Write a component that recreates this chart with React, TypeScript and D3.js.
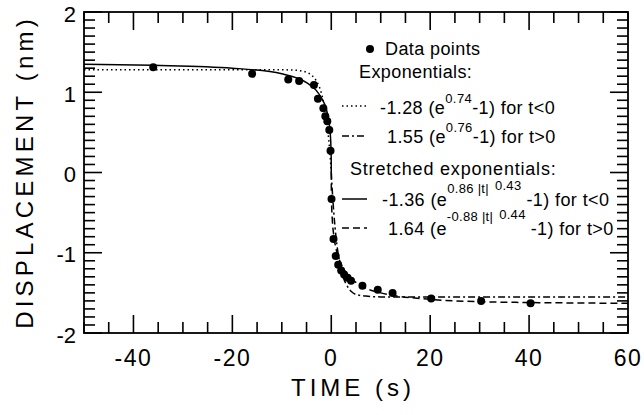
import React from 'react';
import * as d3 from 'd3';

// measured points
const dataT = [-36, -16, -8.7, -6.5, -3.5, -2.7, -1.6, -1.2, -0.8, -0.4, -0.15, 0.05, 0.45, 0.9, 1.4, 2.0, 2.6, 3.3, 4.0, 6.3, 9.4, 12.4, 20.2, 30.3, 40.3];
const dataV = [1.31, 1.23, 1.16, 1.14, 1.09, 0.92, 0.80, 0.70, 0.64, 0.53, 0.27, -0.33, -0.83, -1.04, -1.15, -1.22, -1.27, -1.31, -1.35, -1.41, -1.46, -1.50, -1.57, -1.60, -1.63];

// fitted curves
const expNegT = [-50, -20, -10, -7, -5, -4, -3, -2.5, -2, -1.5, -1, -0.75, -0.5, -0.25, 0];
const expNegV = [1.28, 1.28, 1.28, 1.273, 1.248, 1.213, 1.14, 1.08, 0.99, 0.86, 0.67, 0.55, 0.40, 0.22, 0];
const expPosT = [0, 0.25, 0.5, 1, 1.5, 2, 2.5, 3, 4, 5, 7, 10, 60];
const expPosV = [0, -0.27, -0.49, -0.83, -1.05, -1.21, -1.32, -1.39, -1.48, -1.52, -1.54, -1.55, -1.55];
const strNegT = [-50, -36, -20, -10, -5, -3, -2, -1, -0.5, -0.2, -0.05, -0.01, 0];
const strNegV = [1.35, 1.335, 1.30, 1.23, 1.12, 1.02, 0.93, 0.79, 0.64, 0.48, 0.29, 0.15, 0];
const strPosT = [0, 0.01, 0.05, 0.2, 0.5, 1, 2, 3, 5, 10, 20, 30, 40, 60];
const strPosV = [0, -0.18, -0.35, -0.58, -0.78, -0.96, -1.14, -1.25, -1.37, -1.50, -1.58, -1.61, -1.62, -1.63];

const xLabels = [-40, -20, 0, 20, 40, 60];
const yLabels = [-2, -1, 0, 1, 2];

const W = 644, H = 415;
const mLeft = 84, mRight = 628, mTop = 12, mBottom = 333;
const font = '"Liberation Sans", Arial, Helvetica, sans-serif';

export default function App() {
  const x = d3.scaleLinear().domain([-50, 60]).range([mLeft, mRight]);
  const y = d3.scaleLinear().domain([-2, 2]).range([mBottom, mTop]);

  const lineGen = d3.line<[number, number]>()
    .x(d => x(d[0]))
    .y(d => y(d[1]))
    .curve(d3.curveMonotoneX);
  const path = (ts: number[], vs: number[]) => lineGen(ts.map((t, i) => [t, vs[i]]) as [number, number][]) || '';

  // inward ticks on all four sides, long ones on labelled values
  const xt = x.ticks(22);
  const yt = y.ticks(40);
  const xMaj = (t: number) => xLabels.includes(t);
  const yMaj = (v: number) => Math.abs(v - Math.round(v)) < 1e-6;

  return (
    <svg width={W} height={H} style={{ position: 'absolute', left: 0, top: 0, background: '#fff' }} fontFamily={font}>
      <rect width={W} height={H} fill="#fff" />

      <g fill="none" stroke="#000" strokeWidth={1.5}>
        <path d={path(expNegT, expNegV)} strokeDasharray="1.5 3" />
        <path d={path(expPosT, expPosV)} strokeDasharray="7 3 2 3" />
        <path d={path(strNegT, strNegV)} />
        <path d={path(strPosT, strPosV)} strokeDasharray="7 4" />
      </g>
      <g fill="#000">
        {dataT.map((t, i) => (
          <circle key={i} cx={x(t)} cy={y(dataV[i])} r={4} />
        ))}
      </g>

      <g stroke="#000" strokeWidth={1.6}>
        {xt.map(t => {
          const len = xMaj(t) ? 18 : 11;
          return (
            <g key={'x' + t}>
              <line x1={x(t)} x2={x(t)} y1={mBottom} y2={mBottom - len} />
              <line x1={x(t)} x2={x(t)} y1={mTop} y2={mTop + len} />
            </g>
          );
        })}
        {yt.map(v => {
          const len = yMaj(v) ? 18 : 11;
          return (
            <g key={'y' + v}>
              <line x1={mLeft} x2={mLeft + len} y1={y(v)} y2={y(v)} />
              <line x1={mRight} x2={mRight - len} y1={y(v)} y2={y(v)} />
            </g>
          );
        })}
      </g>
      <rect x={mLeft} y={mTop} width={mRight - mLeft} height={mBottom - mTop} fill="none" stroke="#000" strokeWidth={1.8} />

      <g fontSize={23} textAnchor="middle" letterSpacing={1.5}>
        {xLabels.map(t => (
          <text key={t} x={x(t)} y={366}>{t}</text>
        ))}
      </g>
      <g fontSize={22} textAnchor="end" dominantBaseline="central">
        {yLabels.map(v => (
          <text key={v} x={76} y={y(v) + 2}>{v}</text>
        ))}
      </g>
      <text x={353} y={396} fontSize={24} textAnchor="middle" letterSpacing={4}>TIME (s)</text>
      <text transform="translate(33,172) rotate(-90)" fontSize={24} textAnchor="middle" letterSpacing={4.2}>DISPLACEMENT (nm)</text>

      <g fontSize={18} letterSpacing={0.4}>
        <circle cx={370} cy={49} r={4} />
        <text x={385} y={55}>Data points</text>
        <text x={359} y={78}>Exponentials:</text>
        <line x1={342} x2={367} y1={106} y2={106} stroke="#000" strokeWidth={1.5} strokeDasharray="1.5 3" />
        <text x={380} y={114}>-1.28 (e<tspan dy={-11} fontSize={13}>0.74</tspan><tspan dy={11}>-1) for t&lt;0</tspan></text>
        <line x1={342} x2={367} y1={136} y2={136} stroke="#000" strokeWidth={1.5} strokeDasharray="7 3 2 3" />
        <text x={387} y={143}>1.55 (e<tspan dy={-11} fontSize={13}>0.76</tspan><tspan dy={11}>-1) for t&gt;0</tspan></text>
        <text x={350} y={175} letterSpacing={0.8}>Stretched exponentials:</text>
        <line x1={342} x2={367} y1={199} y2={199} stroke="#000" strokeWidth={1.5} />
        <text x={382} y={206}>-1.36 (e<tspan dy={-13} fontSize={13} letterSpacing={0.3}>0.86 |t|</tspan><tspan dy={-3} dx={6} fontSize={13} letterSpacing={0.3}>0.43</tspan><tspan dy={16} dx={5}>-1) for t&lt;0</tspan></text>
        <line x1={342} x2={367} y1={228} y2={228} stroke="#000" strokeWidth={1.5} strokeDasharray="7 4" />
        <text x={388} y={235}>1.64 (e<tspan dy={-14} fontSize={13} letterSpacing={0.3}>-0.88 |t|</tspan><tspan dy={-2} dx={6} fontSize={13} letterSpacing={0.3}>0.44</tspan><tspan dy={16} dx={5}>-1) for t&gt;0</tspan></text>
      </g>
    </svg>
  );
}
